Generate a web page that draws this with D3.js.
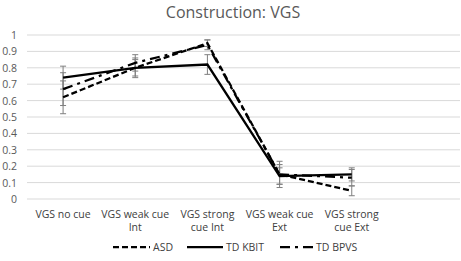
<!DOCTYPE html>
<html><head><meta charset="utf-8">
<script src="https://cdn.jsdelivr.net/npm/d3@7"></script>
<style>body{margin:0;background:#fff;} text{font-family:"Open Sans","Noto Sans",sans-serif;}</style>
</head><body>
<svg id="c" width="461" height="261"></svg>
<script>
const title = "Construction: VGS";
const categories = ["VGS no cue|", "VGS weak cue|Int", "VGS strong|cue Int", "VGS weak cue|Ext", "VGS strong|cue Ext", ""];
const yTicks = [0,0.1,0.2,0.3,0.4,0.5,0.6,0.7,0.8,0.9,1];
const seriesNames = ["ASD", "TD KBIT", "TD BPVS"];
const asd = [0.62, 0.80, 0.95, 0.15, 0.05];
const asdErr = [0.10, 0.06, 0.02, 0.08, 0.03];
const kbit = [0.74, 0.80, 0.82, 0.14, 0.15];
const kbitErr = [0.07, 0.05, 0.06, 0.05, 0.04];
const bpvs = [0.67, 0.83, 0.94, 0.15, 0.13];
const bpvsErr = [0.10, 0.05, 0.03, 0.06, 0.05];

const svg = d3.select("#c");
const pL = 27, pR = 460, pT = 35, pB = 199;
const x = d3.scaleBand().domain(categories).range([pL, pR]);
const y = d3.scaleLinear().domain([0,1]).range([pB, pT]);

svg.append("text").attr("x", 233).attr("y", 18).attr("text-anchor","middle")
  .attr("fill","#595959").attr("font-size", 16).text(title);

svg.append("g").selectAll("line").data(yTicks).join("line")
  .attr("x1", pL).attr("x2", pR).attr("y1", d=>y(d)).attr("y2", d=>y(d))
  .attr("stroke","#d9d9d9").attr("stroke-width",1);
svg.append("g").selectAll("text").data(yTicks).join("text")
  .attr("x", 17).attr("y", d=>y(d)+4).attr("text-anchor","end")
  .attr("fill","#595959").attr("font-size",10.5).text(d=>d3.format("")(d));
const xl = svg.append("g").selectAll("text").data(categories.filter(c=>c)).join("text")
  .attr("x", d=>x(d)+x.bandwidth()/2).attr("y", 218).attr("text-anchor","middle")
  .attr("fill","#404040").attr("font-size",10.5);
xl.each(function(d){
  const parts = d.split("|");
  const t = d3.select(this);
  parts.forEach((p,i)=>{ if(p) t.append("tspan").attr("x", x(d)+x.bandwidth()/2).attr("dy", i===0?0:13).text(p); });
});

const cx = i => x(categories[i]) + x.bandwidth()/2;
const series = [
  {name: seriesNames[0], vals: asd, err: asdErr, dash: "6,3"},
  {name: seriesNames[1], vals: kbit, err: kbitErr, dash: null},
  {name: seriesNames[2], vals: bpvs, err: bpvsErr, dash: "10,5,3,5"}
];
series.forEach(s=>{
  const g = svg.append("g").attr("stroke","#7f7f7f").attr("stroke-width",1);
  s.vals.forEach((v,i)=>{
    const x0 = cx(i), lo = y(v - s.err[i]), hi = y(v + s.err[i]);
    g.append("line").attr("x1",x0).attr("x2",x0).attr("y1",lo).attr("y2",hi);
    g.append("line").attr("x1",x0-3).attr("x2",x0+3).attr("y1",lo).attr("y2",lo);
    g.append("line").attr("x1",x0-3).attr("x2",x0+3).attr("y1",hi).attr("y2",hi);
  });
});
const line = d3.line().x((d,i)=>cx(i)).y(d=>y(d));
series.forEach(s=>{
  svg.append("path").datum(s.vals).attr("d", line).attr("fill","none")
    .attr("stroke","#000").attr("stroke-width",2.25)
    .attr("stroke-dasharray", s.dash);
});
const legX = [113, 187, 280];
const legW = [37, 36, 33];
series.forEach((s,i)=>{
  svg.append("line").attr("x1",legX[i]).attr("x2",legX[i]+legW[i]).attr("y1",247).attr("y2",247)
    .attr("stroke","#000").attr("stroke-width",2.25).attr("stroke-dasharray", s.dash);
  svg.append("text").attr("x",legX[i]+legW[i]+3).attr("y",251).attr("fill","#404040")
    .attr("font-size",10.5).text(s.name);
});
</script>
</body></html>
